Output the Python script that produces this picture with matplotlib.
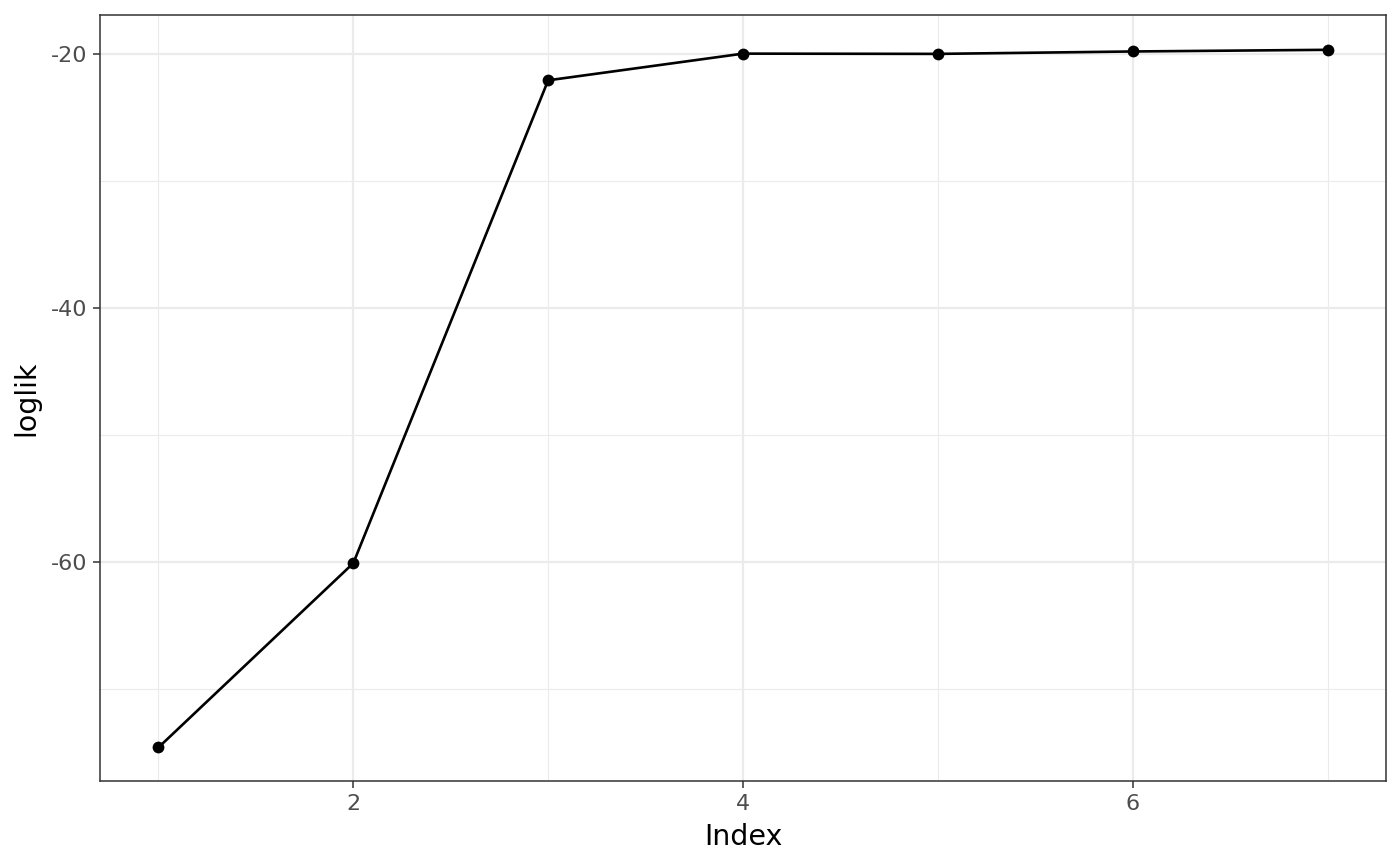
import matplotlib
matplotlib.use("Agg")
import matplotlib.pyplot as plt
from matplotlib.ticker import MultipleLocator

plt.rcParams['axes.unicode_minus'] = False

# valori
index = [1, 2, 3, 4, 5, 6, 7]
loglik = [-74.6, -60.1, -22.1, -20.0, -20.02, -19.83, -19.7]

fig = plt.figure(figsize=(14, 8.66), dpi=100)
ax = fig.add_axes([100 / 1400, 1 - 781 / 866, (1386 - 100) / 1400, (781 - 15) / 866])

ax.plot(index, loglik, color="black", linewidth=1.9, zorder=3)
ax.scatter(index, loglik, color="black", s=72, linewidths=0, zorder=4)

ax.set_xlim(0.7, 7.3)
ax.set_ylim(-77.24, -16.96)

ax.xaxis.set_major_locator(MultipleLocator(2))
ax.xaxis.set_minor_locator(MultipleLocator(1))
ax.yaxis.set_major_locator(MultipleLocator(20))
ax.yaxis.set_minor_locator(MultipleLocator(10))

ax.grid(which="major", color="#EBEBEB", linewidth=1.6)
ax.grid(which="minor", color="#EBEBEB", linewidth=0.8)
ax.set_axisbelow(True)

for s in ax.spines.values():
    s.set_color("#333333")
    s.set_linewidth(1.1)

ax.tick_params(which="major", length=5, color="#333333", width=1.1, pad=4,
               labelsize=16, labelcolor="#4D4D4D")
ax.tick_params(which="minor", length=0)

ax.set_xlabel("Index", fontsize=20.5, labelpad=7)
ax.set_ylabel("loglik", fontsize=20.5, labelpad=8)

fig.savefig("out.png", dpi=100, facecolor="white")
